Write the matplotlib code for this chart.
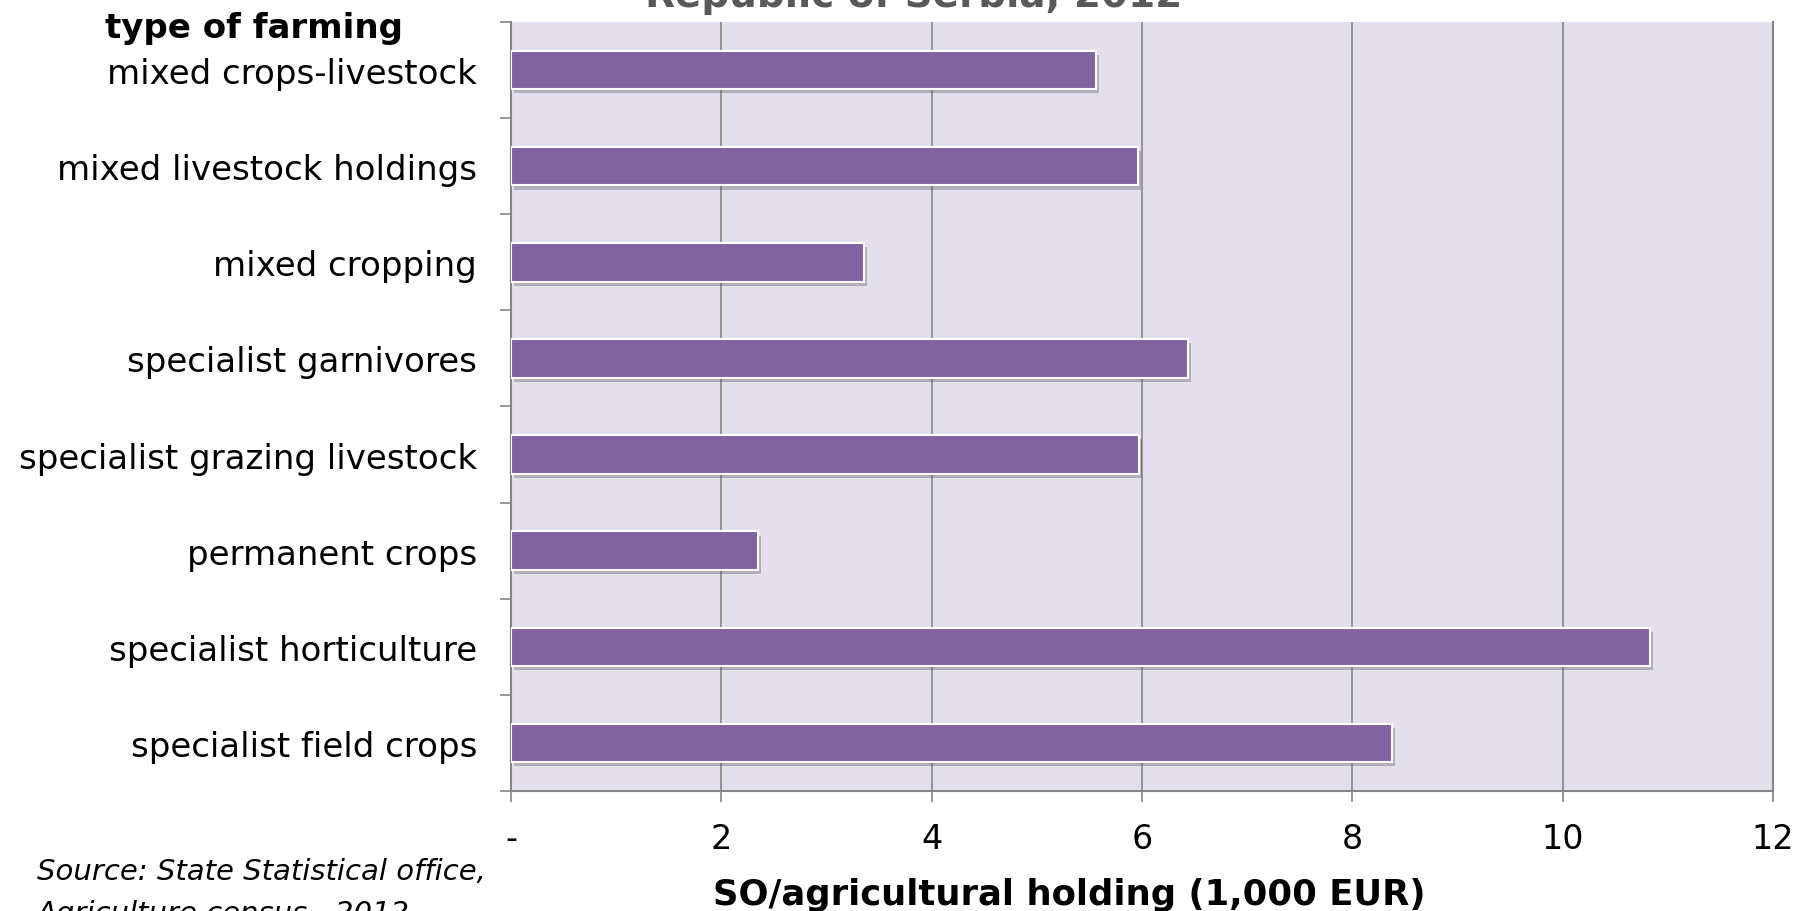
import matplotlib
matplotlib.use('Agg')
import matplotlib.pyplot as plt
import matplotlib.patheffects as pe
import numpy as np

# Donnees
categories = ['specialist field crops', 'specialist horticulture', 'permanent crops',
              'specialist grazing livestock', 'specialist garnivores', 'mixed cropping',
              'mixed livestock holdings', 'mixed crops-livestock']
valeurs = [8.38, 10.83, 2.35, 5.97, 6.44, 3.36, 5.96, 5.56]
xticks = [0, 2, 4, 6, 8, 10, 12]
xticklabels = ['-', '2', '4', '6', '8', '10', '12']

plt.rcParams['font.family'] = 'DejaVu Sans'

fig = plt.figure(figsize=(18.03, 9.12), dpi=100)
ax = fig.add_axes([0.2834, 0.1316, 0.7000, 0.8432])
ax.set_facecolor('#E4DFEC')

y = np.arange(len(categories))
bars = ax.barh(y, valeurs, height=0.4, color='#8064A2', edgecolor='white',
               linewidth=1.5, zorder=3)
for b in bars:
    b.set_path_effects([pe.SimplePatchShadow(offset=(2, -3), shadow_rgbFace='#555555', alpha=0.35),
                        pe.Normal()])

ax.set_xlim(0, 12)
ax.set_ylim(-0.5, len(categories) - 0.5)
ax.set_xticks(xticks)
ax.set_xticklabels(xticklabels, fontsize=24)
ax.set_yticks(y)
ax.set_yticklabels(categories, fontsize=24.5)
ax.set_yticks(np.arange(-0.5, len(categories)), minor=True)

ax.tick_params(axis='y', which='major', length=0, pad=24.5)
ax.tick_params(axis='y', which='minor', length=8, width=1.2, color='#868686', direction='out')
ax.tick_params(axis='x', which='major', length=8, width=1.2, color='#868686', direction='out', pad=14)

ax.grid(axis='x', color='#868686', linewidth=1.2, zorder=1)
for s in ['left', 'bottom', 'right']:
    ax.spines[s].set_color('#868686')
    ax.spines[s].set_linewidth(1.5)
ax.spines['top'].set_visible(False)

# Textes
fig.text(0.507, 0.992, 'Republic of Serbia, 2012', fontsize=28, fontweight='bold',
         color='#595959', ha='center', va='baseline')
fig.text(0.058, 0.969, 'type of farming', fontsize=24.5, fontweight='bold', ha='left', va='center')
fig.text(0.3955, 0.0077, 'SO/agricultural holding (1,000 EUR)', fontsize=25.5, fontweight='bold',
         ha='left', va='baseline')
fig.text(0.0205, 0.035, 'Source: State Statistical office,', fontsize=21, style='italic',
         ha='left', va='baseline')
fig.text(0.0205, -0.011, 'Agriculture census , 2012', fontsize=21, style='italic',
         ha='left', va='baseline')

fig.savefig('out.png', dpi=100)
